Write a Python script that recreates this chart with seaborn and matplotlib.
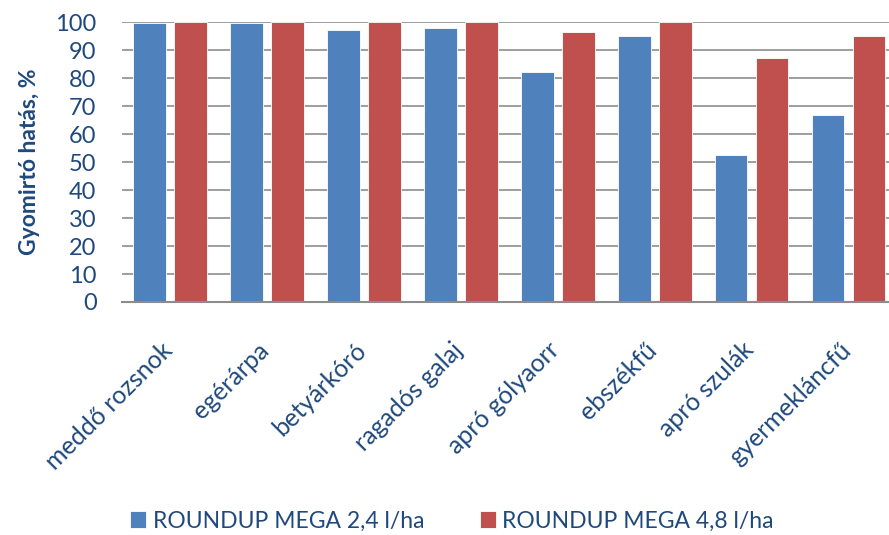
import matplotlib
matplotlib.use('Agg')
import matplotlib.pyplot as plt
import matplotlib.transforms as mtransforms
import pandas as pd
import seaborn as sns

# gyomfajok és hatások (%)
categories = ['meddő rozsnok', 'egérárpa', 'betyárkóró', 'ragadós galaj',
              'apró gólyaorr', 'ebszékfű', 'apró szulák', 'gyermekláncfű']
series_names = ['ROUNDUP MEGA 2,4 l/ha', 'ROUNDUP MEGA 4,8 l/ha']
dose_low = [99.6, 99.6, 97.4, 98.0, 82.4, 95.2, 52.4, 66.7]
dose_high = [100, 100, 100, 100, 96.5, 100, 87.4, 95.2]
y_ticks = list(range(0, 101, 10))

text_color = '#1F497D'
grid_color = '#8C8C8C'

df = pd.DataFrame({
    'gyom': categories * 2,
    'hatas': dose_low + dose_high,
    'kezeles': [series_names[0]] * len(categories) + [series_names[1]] * len(categories),
})

sns.set_style('white')
plt.rcParams['font.family'] = ['Lato', 'DejaVu Sans']

fig = plt.figure(figsize=(8.89, 5.35), dpi=100)
ax = fig.add_axes([121.5 / 889, (535 - 302) / 535, (897 - 121.5) / 889, (302 - 22.3) / 535])

sns.barplot(data=df, x='gyom', y='hatas', hue='kezeles',
            palette=['#4F81BD', '#C0504D'], width=0.845, gap=0.2,
            edgecolor='white', linewidth=0.6, saturation=1, ax=ax, zorder=2)

ax.set_ylim(0, 100)
ax.set_yticks(y_ticks)
ax.set_xlim(-0.5, len(categories) - 0.5)
ax.yaxis.grid(True, color=grid_color, linewidth=1.2, zorder=0)
ax.set_axisbelow(True)
for side in ['top', 'right', 'left']:
    ax.spines[side].set_visible(False)
ax.spines['bottom'].set_color(grid_color)
ax.spines['bottom'].set_linewidth(1.5)
ax.spines['bottom'].set_zorder(3)

ax.tick_params(axis='y', length=0, pad=18, labelsize=17, labelcolor=text_color)
ax.tick_params(axis='x', length=0, pad=26, labelsize=18, labelcolor=text_color)
# címkék kicsit balra tolva, mint az eredetin
shift = mtransforms.ScaledTranslation(-7 / 72, 0, fig.dpi_scale_trans)
for lbl in ax.get_xticklabels():
    lbl.set_rotation(45)
    lbl.set_ha('right')
    lbl.set_rotation_mode('anchor')
    lbl.set_transform(lbl.get_transform() + shift)

ax.set_xlabel('')
ax.set_ylabel('Gyomirtó hatás, %', fontsize=16.5, fontweight='bold', color=text_color, labelpad=11)

handles, labels = ax.get_legend_handles_labels()
ax.legend_.remove()
fig.legend(handles, labels, loc='center', bbox_to_anchor=(452 / 889, 1 - 521 / 535),
           ncol=2, frameon=False, fontsize=16.5, labelcolor=text_color,
           handlelength=0.7, handleheight=0.7, handletextpad=0.3, columnspacing=2.4)

fig.savefig('out.png', dpi=100)
